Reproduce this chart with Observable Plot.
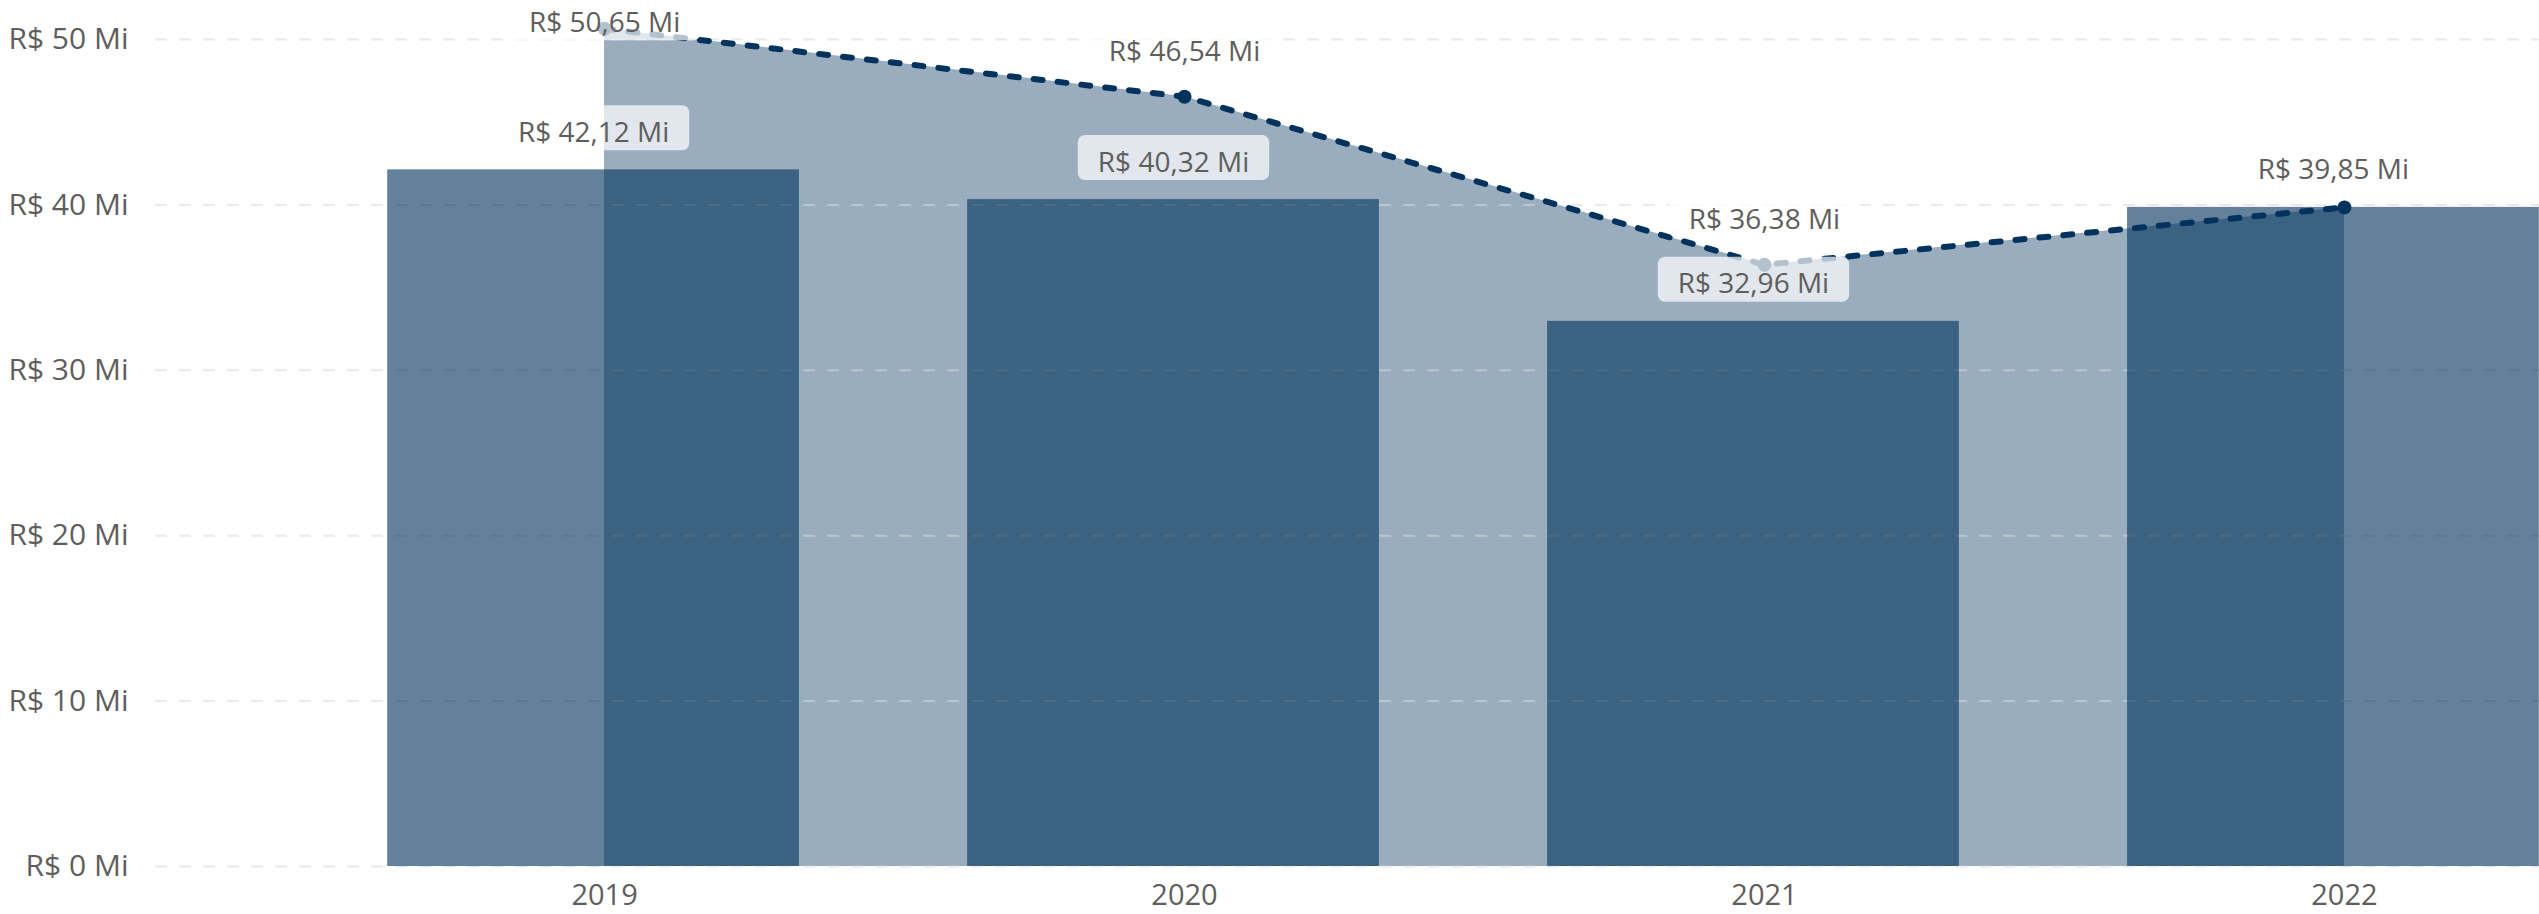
<!DOCTYPE html>
<html>
<head>
<meta charset="utf-8">
<script src="https://cdn.jsdelivr.net/npm/d3@7"></script>
<script src="https://cdn.jsdelivr.net/npm/@observablehq/plot@0.6"></script>
<style>
  html, body { margin: 0; padding: 0; background: #fff; overflow: hidden; }
  svg { display: block; }
</style>
</head>
<body>
<script>
// ---- data ----
const years = ["2019", "2020", "2021", "2022"];
const barValues = [42.12, 40.32, 32.96, 39.85];
const lineValues = [50.65, 46.54, 36.38, 39.85];
const yTicks = [0, 10, 20, 30, 40, 50];

const data = years.map((year, i) => ({year, bar: barValues[i], line: lineValues[i]}));
const fmt = v => "R$ " + v.toFixed(2).replace(".", ",") + " Mi";

const navy = "#03335c";
const textColor = "#605e5c";

const chart = Plot.plot({
  width: 2539,
  height: 914,
  marginLeft: 155,
  marginRight: 0,
  marginTop: 39,
  marginBottom: 48,
  style: {fontFamily: "'Open Sans', 'Noto Sans', sans-serif", background: "#fff"},
  x: {type: "band", domain: years, range: [230, 2718], padding: 0.29, round: false, label: null},
  y: {domain: [0, 50], label: null},
  marks: [
    Plot.areaY(data, {x: "year", y: "line", fill: navy, fillOpacity: 0.4}),
    Plot.ruleY(yTicks, {stroke: "#d9d9d9", strokeOpacity: 0.55, strokeWidth: 2, strokeDasharray: "12,12"}),
    Plot.barY(data, {x: "year", y: "bar", fill: navy, fillOpacity: 0.62, dx: -11}),
    Plot.lineY(data, {x: "year", y: "line", stroke: navy, strokeWidth: 6, strokeDasharray: "9,15", strokeLinecap: "round"}),
    Plot.dot(data, {x: "year", y: "line", r: 7, fill: navy}),
    Plot.axisX({tickSize: 0, tickPadding: 18, fontSize: 29, color: textColor, label: null}),
    Plot.axisY({ticks: yTicks, tickFormat: d => `R$ ${d} Mi`, tickSize: 0, tickPadding: 27, fontSize: 30, color: textColor, label: null}),
    Plot.text(data, {x: "year", y: "bar", text: d => fmt(d.bar), dx: -11, dy: -37, fontSize: 28, fill: textColor}),
    Plot.text(data.filter(d => d.year === "2019"), {x: "year", y: "line", text: d => fmt(d.line), dy: -6, fontSize: 28, fill: textColor}),
    Plot.text(data.filter(d => d.year === "2020" || d.year === "2021"), {x: "year", y: "line", text: d => fmt(d.line), dy: -45, fontSize: 28, fill: textColor})
  ]
});
document.body.append(chart);

// label backgrounds (semi-transparent rounded boxes behind each data label)
const svgNS = "http://www.w3.org/2000/svg";
const textGroups = Array.from(chart.querySelectorAll('g[aria-label="text"]'));
if (textGroups.length) {
  const first = textGroups[0];
  textGroups.forEach(g => {
    const bg = document.createElementNS(svgNS, "g");
    const tf = g.getAttribute("transform");
    if (tf) bg.setAttribute("transform", tf);
    g.querySelectorAll("text").forEach(t => {
      const b = t.getBBox();
      const r = document.createElementNS(svgNS, "rect");
      const h = 45;
      r.setAttribute("x", b.x - 20);
      r.setAttribute("y", b.y + b.height / 2 - 3 - h / 2);
      r.setAttribute("width", b.width + 40);
      r.setAttribute("height", h);
      r.setAttribute("rx", 7);
      r.setAttribute("fill", "#fff");
      r.setAttribute("fill-opacity", 0.7);
      const ttf = t.getAttribute("transform");
      if (ttf) r.setAttribute("transform", ttf);
      bg.append(r);
    });
    first.parentNode.insertBefore(bg, first);
  });
}
</script>
</body>
</html>
